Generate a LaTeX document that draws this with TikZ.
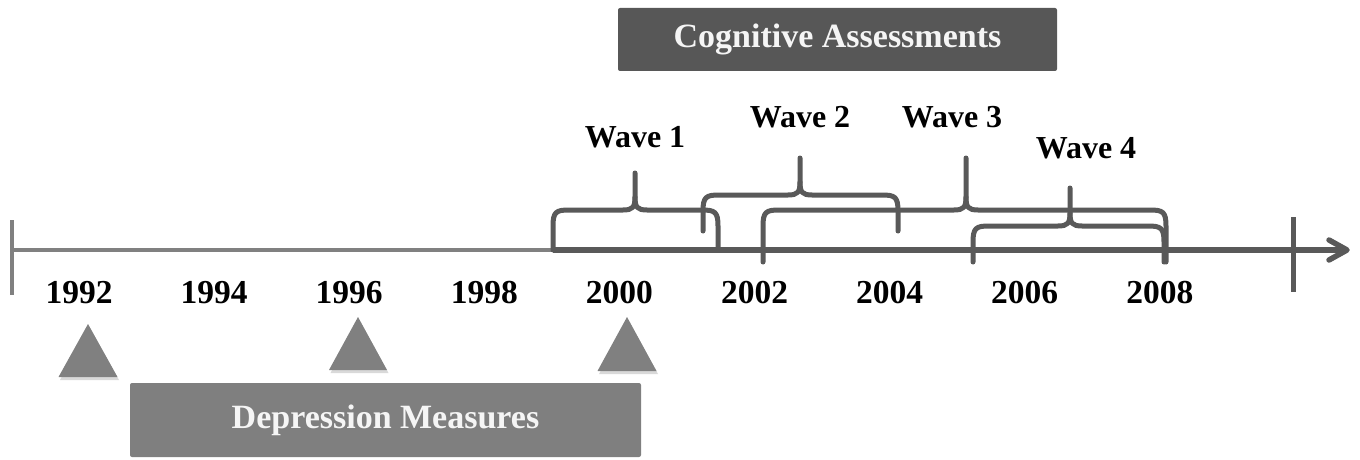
\documentclass[tikz,border=0pt]{standalone}
\usepackage{fontspec}
\setmainfont{Liberation Serif}
\definecolor{axislight}{HTML}{808080}
\definecolor{axisdark}{HTML}{595959}
\definecolor{boxdark}{HTML}{575757}
\definecolor{boxlight}{HTML}{7F7F7F}
\definecolor{marker}{HTML}{808080}
\tikzset{
  lbl/.style={font=\fontsize{32}{38}\selectfont\bfseries, text=black, inner sep=0pt},
  yearlbl/.style={lbl, font=\fontsize{33.5}{40}\selectfont\bfseries},
  boxtxt/.style={font=\fontsize{34}{40}\selectfont\bfseries, text=white!96!black},
  bracestyle/.style={draw=axisdark, line width=5pt, line cap=round, line join=round},
  marktri/.style={fill=marker},
  marksh/.style={fill=black, opacity=0.15},
}
% wave bracket: left x, right x, tip x, bar y, tip top y, leg foot y
\newcommand\wavebrace[6]{%
  \draw[bracestyle] (#1,#6) -- (#1,#4+16) .. controls (#1,#4+2) and (#1+3,#4) .. (#1+16,#4)
     -- (#3-12,#4) .. controls (#3-2,#4) and (#3,#4-3) .. (#3,#4-13) -- (#3,#5);
  \draw[bracestyle] (#2,#6) -- (#2,#4+16) .. controls (#2,#4+2) and (#2-3,#4) .. (#2-16,#4)
     -- (#3+12,#4) .. controls (#3+2,#4) and (#3,#4-3) .. (#3,#4-13);
}
% measurement marker: apex x, apex y, half width, base y
\newcommand\measuremark[4]{%
  \fill[marksh] (#1+1.5,#2+3) -- (#1-#3+1.5,#4+3) -- (#1+#3+1.5,#4+3) -- cycle;
  \fill[marktri] (#1,#2) -- (#1-#3,#4) -- (#1+#3,#4) -- cycle;
}
\begin{document}
\begin{tikzpicture}[x=1pt, y=-1pt]
\useasboundingbox (0,0) rectangle (1360,460);

% headline boxes
\node[boxtxt, fill=boxdark, rounded corners=2pt, minimum width=439pt, minimum height=63pt, inner sep=0pt]
  (cog) at (837.5,39.5) {Cognitive Assessments};
\node[boxtxt, fill=boxlight, rounded corners=2pt, minimum width=511pt, minimum height=74pt, inner sep=0pt]
  (dep) at (385.5,420) {Depression Measures};

% time axis
\coordinate (axstart) at (12,250);
\coordinate (axmid) at (553,250);
\coordinate (axend) at (1345,250);
\draw[axislight, line width=4pt] (axstart) -- (axmid);
\draw[axislight, line width=4pt] (12,220) -- (12,295);
\draw[axisdark, line width=5.5pt] (axmid) -- (axend);
\draw[axisdark, line width=5.5pt, line cap=round, line join=round]
  (1329,240) -- (1347,250) -- (1329,260);
\draw[axisdark, line width=5pt] (1293,217) -- (1293,292);

% year labels
\foreach \yr [count=\i from 0] in {1992,1994,1996,1998,2000,2002,2004,2006,2008}
  \node[yearlbl] (y\yr) at (79+135.1*\i,293) {\yr};

% assessment waves
\wavebrace{553}{718}{635}{210}{173}{250}
\wavebrace{703}{898}{800}{195}{158}{231}
\wavebrace{763}{1166}{966}{210}{158}{262}
\wavebrace{973}{1164}{1070}{226}{188}{262}

\node[lbl] (w1) at (635,137) {Wave 1};
\node[lbl] (w2) at (800,117) {Wave 2};
\node[lbl] (w3) at (952,117) {Wave 3};
\node[lbl] (w4) at (1086,148) {Wave 4};

% depression measurement points
\measuremark{88}{324}{29.5}{377}
\measuremark{358}{317}{29}{370}
\measuremark{627}{317}{29.5}{371}
\end{tikzpicture}
\end{document}
